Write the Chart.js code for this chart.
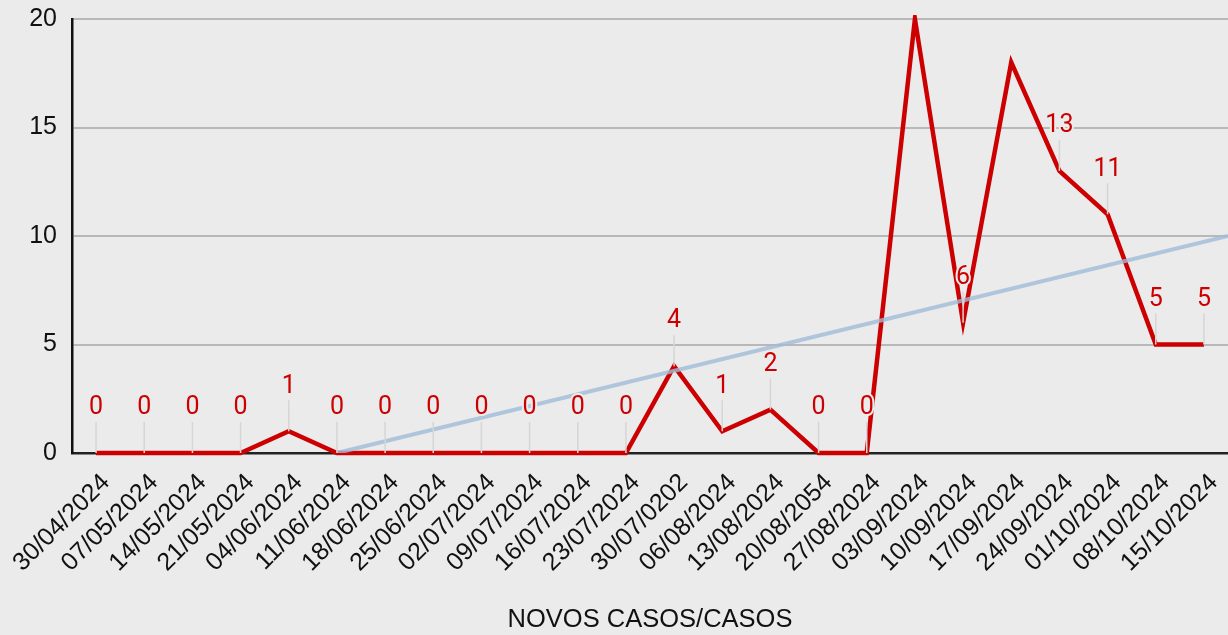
<!DOCTYPE html>
<html>
<head>
<meta charset="utf-8">
<script src="https://cdn.jsdelivr.net/npm/chart.js@4/dist/chart.umd.min.js"></script>
<style>
  html, body { margin: 0; padding: 0; background: #ebebeb; }
  #wrap { width: 1228px; height: 635px; position: relative; }
</style>
</head>
<body>
<div id="wrap"><canvas id="c" width="1228" height="635"></canvas></div>
<script>
const categories = ["30/04/2024","07/05/2024","14/05/2024","21/05/2024","04/06/2024","11/06/2024","18/06/2024","25/06/2024","02/07/2024","09/07/2024","16/07/2024","23/07/2024","30/07/0202","06/08/2024","13/08/2024","20/08/2054","27/08/2024","03/09/2024","10/09/2024","17/09/2024","24/09/2024","01/10/2024","08/10/2024","15/10/2024"];
const novosCasos = [0,0,0,0,1,0,0,0,0,0,0,0,4,1,2,0,0,20,6,18,13,11,5,5];
// trend line endpoints (category index, value)
const trendX = [5, 23.5];
const trendY = [0, 10];
const yTicks = [0,5,10,15,20];
const axisTitle = "NOVOS CASOS/CASOS";

const bgPlugin = {
  id: 'bg',
  beforeDraw(chart) {
    const ctx = chart.ctx;
    ctx.save();
    ctx.fillStyle = '#ebebeb';
    ctx.fillRect(0, 0, chart.width, chart.height);
    ctx.restore();
  }
};

const labelPlugin = {
  id: 'pointLabels',
  afterDatasetsDraw(chart) {
    const ctx = chart.ctx;
    const meta = chart.getDatasetMeta(0);
    const area = chart.chartArea;
    ctx.save();
    meta.data.forEach((pt, i) => {
      const v = novosCasos[i];
      const ly = pt.y - 45;
      if (ly - 12 < area.top) return;
      ctx.strokeStyle = '#d6d6d6';
      ctx.lineWidth = 1.5;
      ctx.beginPath();
      ctx.moveTo(pt.x, ly + 14);
      ctx.lineTo(pt.x, pt.y);
      ctx.stroke();
      ctx.font = '25px Roboto';
      ctx.textAlign = 'center';
      ctx.textBaseline = 'middle';
      ctx.strokeStyle = '#ebebeb';
      ctx.lineWidth = 4;
      ctx.lineJoin = 'round';
      ctx.strokeText(String(v), pt.x, ly);
      ctx.fillStyle = '#cc0000';
      ctx.fillText(String(v), pt.x, ly);
    });
    ctx.restore();
  }
};

new Chart(document.getElementById('c'), {
  type: 'line',
  data: {
    labels: categories,
    datasets: [
      {
        label: 'Novos casos',
        data: novosCasos,
        borderColor: '#cc0000',
        borderWidth: 4.5,
        pointRadius: 0,
        tension: 0,
        fill: false,
        order: 1,
        clip: 4
      },
      {
        label: 'Tendência',
        data: trendX.map((x, i) => ({x: x, y: trendY[i]})),
        xAxisID: 'x2',
        borderColor: 'rgba(160,188,216,0.8)',
        borderWidth: 4,
        pointRadius: 0,
        tension: 0,
        fill: false,
        order: 0
      }
    ]
  },
  options: {
    responsive: false,
    animation: false,
    events: [],
    layout: { padding: { top: 19, right: 0, left: 0, bottom: 0 } },
    plugins: {
      legend: { display: false },
      tooltip: { enabled: false }
    },
    scales: {
      x: {
        type: 'category',
        offset: true,
        grid: { display: false, drawTicks: false },
        border: { display: true, color: '#222222', width: 2.5 },
        ticks: {
          color: '#111111',
          font: { family: 'Liberation Sans', size: 25 },
          minRotation: 45,
          maxRotation: 45,
          padding: 15,
          labelOffset: 10,
          autoSkip: false
        },
        title: {
          display: true,
          text: axisTitle,
          color: '#111111',
          font: { family: 'Liberation Sans', size: 25.5 },
          padding: { top: 0, bottom: 0 }
        },
        afterFit(scale) {
          scale.height = 182;
          scale.paddingLeft = 0;
          scale.paddingRight = 0;
        }
      },
      x2: {
        type: 'linear',
        display: false,
        min: -0.5,
        max: 23.5
      },
      y: {
        min: 0,
        max: 20,
        afterBuildTicks(scale) { scale.ticks = yTicks.map(v => ({value: v})); },
        grid: { color: '#b8b8b8', lineWidth: 2, drawTicks: false },
        border: { display: true, color: '#111111', width: 2.5 },
        ticks: {
          color: '#111111',
          font: { family: 'Liberation Sans', size: 25 },
          padding: 15
        },
        afterFit(scale) {
          scale.width = 72;
          scale.paddingTop = 0;
          scale.paddingBottom = 0;
        }
      }
    }
  },
  plugins: [bgPlugin, labelPlugin]
});
</script>
</body>
</html>
